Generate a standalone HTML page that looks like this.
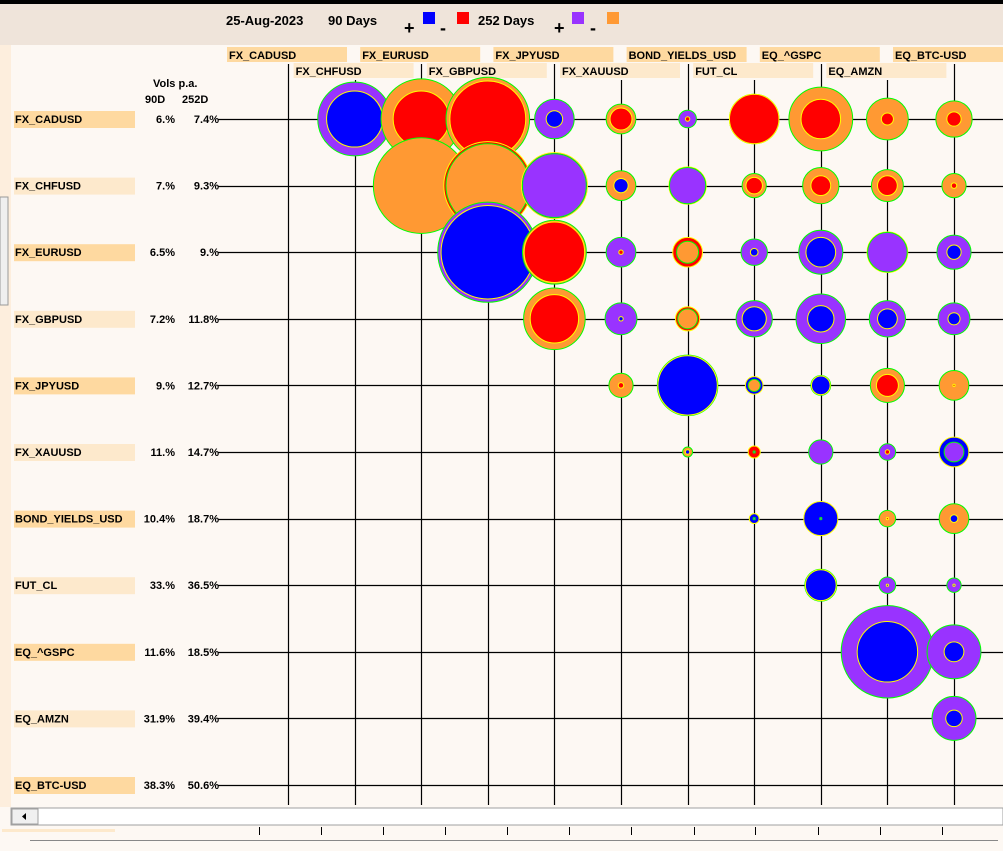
<!DOCTYPE html>
<html><head><meta charset="utf-8"><style>
body{margin:0;width:1003px;height:846px;overflow:hidden;background:#fdf8f3;font-family:"Liberation Sans",sans-serif;}
#wrap{position:relative;width:1003px;height:846px;}
svg text{font-family:"Liberation Sans",sans-serif;font-weight:bold;}
</style></head><body>
<div id="wrap">
<svg id="chart" width="1003" height="846" xmlns="http://www.w3.org/2000/svg">
  <rect x="0" y="0" width="1003" height="846" fill="#fdf8f3"/>
  <rect x="0" y="0" width="1003" height="4" fill="#000"/>
  <rect x="0" y="4" width="1003" height="41" fill="#efe4da"/>
  <rect x="0" y="45" width="11" height="762" fill="#fdeedd"/>
  <rect x="0" y="197" width="8" height="108" fill="#efefef" stroke="#999" stroke-width="1"/>
  <g font-size="13">
    <text x="226" y="25">25-Aug-2023</text>
    <text x="328" y="25">90 Days</text>
    <text x="404" y="34" font-size="18">+</text>
    <rect x="423" y="12" width="12" height="12" fill="#0000ff"/>
    <text x="440" y="34" font-size="18">-</text>
    <rect x="457" y="12" width="12" height="12" fill="#ff0000"/>
    <text x="478" y="25">252 Days</text>
    <text x="554" y="34" font-size="18">+</text>
    <rect x="572" y="12" width="12" height="12" fill="#9933ff"/>
    <text x="590" y="34" font-size="18">-</text>
    <rect x="607" y="12" width="12" height="12" fill="#ff9933"/>
  </g>
  <text x="153" y="87" font-size="11">Vols p.a.</text>
  <text x="145" y="103" font-size="11">90D</text>
  <text x="182" y="103" font-size="11">252D</text>
  <g id="grid"></g>
  <g id="labels"></g>
  <g id="bubbles"></g>
  <rect x="11" y="808" width="992" height="17" fill="#fff" stroke="#a0a0a0"/>
  <rect x="12" y="809" width="26" height="15" fill="#f0f0f0" stroke="#a0a0a0"/>
  <path d="M22 816.5 L26 813 L26 820 Z" fill="#000"/>
  <rect x="0" y="826" width="1003" height="20" fill="#fdf8f3"/>
  <rect x="2" y="829" width="113" height="3" fill="#fde9cc"/>
  <line x1="30" y1="840.5" x2="998" y2="840.5" stroke="#888"/>
  <g id="ruler"></g>
</svg>
</div>
<script>
const assets = ["FX_CADUSD","FX_CHFUSD","FX_EURUSD","FX_GBPUSD","FX_JPYUSD","FX_XAUUSD","BOND_YIELDS_USD","FUT_CL","EQ_^GSPC","EQ_AMZN","EQ_BTC-USD"];
const vol90 = ["6.%","7.%","6.5%","7.2%","9.%","11.%","10.4%","33.%","11.6%","31.9%","38.3%"];
const vol252 = ["7.4%","9.3%","9.%","11.8%","12.7%","14.7%","18.7%","36.5%","18.5%","39.4%","50.6%"];
// upper-triangle correlations (%), row i lists columns i+1..10
const corr252 = [
 [67,-73,-76,36,-27,16,-45,-58,-38,-33],
 [-87,-76,58,-27,33,-22,-33,-29,-22],
 [91,-58,27,-20,24,40,36,31],
 [-56,29,-18,33,45,33,29],
 [-22,55,-11,18,-31,-27],
 [-9,2,22,15,18],
 [2,2,-15,-27],
 [29,15,13],
 [84,49],
 [40]
];
const corr90 = [
 [51,-51,-69,15,-20,-4,-45,-36,-11,-13],
 [0,-80,60,13,34,-15,-18,-18,-5],
 [85,-55,-4,-27,7,27,37,13],
 [-44,4,-22,22,24,18,11],
 [-5,54,16,17,-20,-2],
 [4,-11,0,-4,27],
 [9,31,-2,7],
 [28,2,2],
 [55,18],
 [15]
];
const rulerTicks = [259,321,383,445,507,569,631,694,755,818,880,942];

const NS="http://www.w3.org/2000/svg";
function xPos(j){return 288+j*66.6;}
function yPos(i){return 119+i*66.6;}
function rad(c){return Math.abs(c)*0.55;}
function mk(tag,attrs,parent){const e=document.createElementNS(NS,tag);for(const k in attrs)e.setAttribute(k,attrs[k]);parent.appendChild(e);return e;}
const grid=document.getElementById('grid'),labels=document.getElementById('labels'),bub=document.getElementById('bubbles');
const n=assets.length;
for(let j=0;j<n;j++){
  const x=Math.round(xPos(j))+0.5;
  const l=mk('line',{x1:x,y1:(j%2?80:64),x2:x,y2:805,stroke:'#000','stroke-width':1.2},grid);
  
  
  const top=j%2?63:47;
  const r=mk('rect',{x:xPos(j)-61,y:top,width:120,height:15,fill:j%2?'#fde9cc':'#fed9a0'},labels);
  
  
  const t=mk('text',{x:xPos(j)-59,y:top+12,'font-size':11},labels);
  t.textContent=assets[j];
  
  
}
for(let i=0;i<n;i++){
  const y=Math.round(yPos(i))+0.5;
  const l=mk('line',{x1:218,y1:y,x2:1003,y2:y,stroke:'#000','stroke-width':1.2},grid);
  
  
  const r=mk('rect',{x:14,y:yPos(i)-8,width:121,height:17,fill:i%2?'#fde9cc':'#fed9a0'},labels);
  
  
  const t=mk('text',{x:15,y:yPos(i)+4,'font-size':11},labels);
  t.textContent=assets[i];
  
  
  const a=mk('text',{x:175,y:yPos(i)+4,'font-size':11,'text-anchor':'end'},labels);
  a.textContent=vol90[i];
  
  
  const b=mk('text',{x:219,y:yPos(i)+4,'font-size':11,'text-anchor':'end'},labels);
  b.textContent=vol252[i];
  
  
}
for(let i=0;i<corr252.length;i++){
  for(let k=0;k<corr252[i].length;k++){
    const j=i+1+k, cx=xPos(j), cy=yPos(i);
    const c252=corr252[i][k], c90=corr90[i][k];
    const A={r:rad(c252),fill:c252>=0?'#9933ff':'#ff9933',stroke:'#00ff00',nm:'bubble-252d'};
    const B={r:rad(c90),fill:c90>=0?'#0000ff':'#ff0000',stroke:'#ffff00',nm:'bubble-90d'};
    const order=B.r>A.r?[B,A]:[A,B];
    order.forEach(o=>{
      if(o.r<0.5)return;
      const c=mk('circle',{cx:cx,cy:cy,r:o.r,fill:o.fill,stroke:o.stroke,'stroke-width':1},bub);
      
      
    });
  }
}
const ruler=document.getElementById('ruler');
rulerTicks.forEach(x=>{
  const t=mk('line',{x1:x+0.5,y1:827,x2:x+0.5,y2:835,stroke:'#000'},ruler);
  
  
});
</script>
</body></html>
